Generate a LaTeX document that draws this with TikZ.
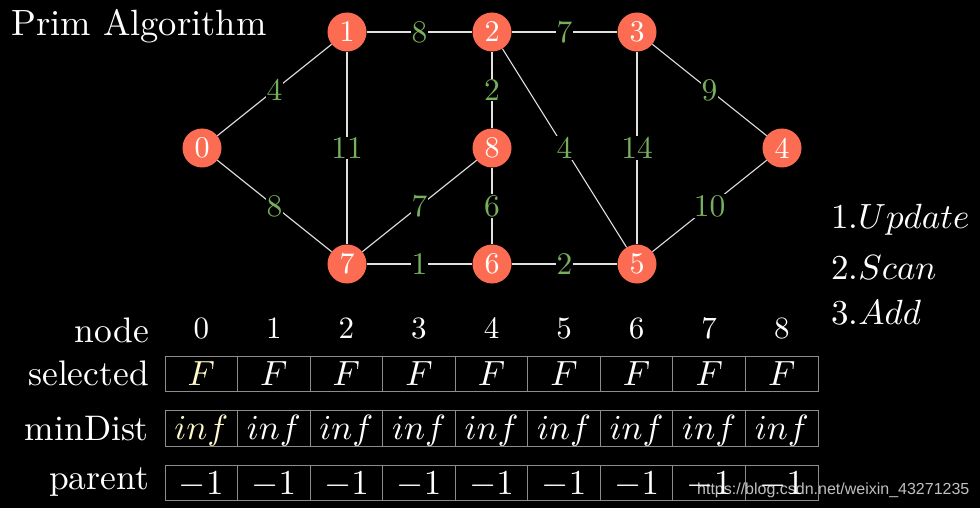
\documentclass[tikz,border=0pt]{standalone}
\usepackage{fontspec}
\setmainfont{lmroman10-regular.otf}[ItalicFont=lmroman10-italic.otf,BoldFont=lmroman10-bold.otf]
\newfontfamily\wmfont{Liberation Sans}
\DeclareFontShape{OT1}{cmr}{m}{n}{<->cmr10}{}
\DeclareFontShape{OML}{cmm}{m}{it}{<->cmmi10}{\skewchar\font'177}
\DeclareFontShape{OMS}{cmsy}{m}{n}{<->cmsy10}{\skewchar\font'60}
\definecolor{nodered}{RGB}{252,108,82}
\definecolor{wgreen}{RGB}{119,176,93}
\definecolor{cellgray}{RGB}{140,140,140}
\definecolor{cream}{RGB}{255,248,200}
\definecolor{edgecol}{RGB}{225,225,225}
\tikzset{
  vtx/.style={circle,fill=nodered,text=white,inner sep=0pt,minimum size=39pt,font=\fontsize{30}{34}\selectfont},
  wlab/.style={fill=black,text=wgreen,inner sep=1pt,font=\fontsize{31.5}{36}\selectfont},
  edge/.style={draw=edgecol,line width=1.1pt},
  cell/.style={draw=cellgray,line width=1pt,text=white,inner sep=0pt,minimum width=72.6pt,text height=29pt,text depth=6.5pt,anchor=base,font=\fontsize{35}{40}\selectfont},
  rowlab/.style={text=white,anchor=base east,inner sep=0pt,font=\fontsize{35.5}{40}\selectfont},
  head/.style={text=white,anchor=base,inner sep=0pt,font=\fontsize{31}{36}\selectfont},
  steplab/.style={text=white,anchor=base west,inner sep=0pt,font=\fontsize{35}{40}\selectfont}
}
\begin{document}
\begin{tikzpicture}[x=1pt,y=-1pt]
\fill[black] (0,0) rectangle (980,508);
\useasboundingbox (0,0) rectangle (980,508);
% title
\node[text=white,anchor=base west,inner sep=0pt,font=\fontsize{36.5}{40}\selectfont] (title) at (11,36) {Prim Algorithm};
% vertices
\node[vtx] (v0) at (202,148) {0};
\node[vtx] (v1) at (347,32) {1};
\node[vtx] (v2) at (492,32) {2};
\node[vtx] (v3) at (637,32) {3};
\node[vtx] (v4) at (782,148) {4};
\node[vtx] (v5) at (637,264) {5};
\node[vtx] (v6) at (492,264) {6};
\node[vtx] (v7) at (347,264) {7};
\node[vtx] (v8) at (492,148) {8};
% edges
\draw[edge] (v0) -- node[wlab]{4} (v1);
\draw[edge] (v0) -- node[wlab]{8} (v7);
\draw[edge] (v1) -- node[wlab]{8} (v2);
\draw[edge] (v1) -- node[wlab]{11} (v7);
\draw[edge] (v2) -- node[wlab]{7} (v3);
\draw[edge] (v2) -- node[wlab]{2} (v8);
\draw[edge] (v2) -- node[wlab]{4} (v5);
\draw[edge] (v3) -- node[wlab]{9} (v4);
\draw[edge] (v3) -- node[wlab]{14} (v5);
\draw[edge] (v4) -- node[wlab]{10} (v5);
\draw[edge] (v7) -- node[wlab]{7} (v8);
\draw[edge] (v8) -- node[wlab]{6} (v6);
\draw[edge] (v7) -- node[wlab]{1} (v6);
\draw[edge] (v6) -- node[wlab]{2} (v5);
% steps
\node[steplab] (s1) at (831,228) {1.$Update$};
\node[steplab] (s2) at (831,279) {2.$Scan$};
\node[steplab] (s3) at (831,324) {3.$Add$};
% row labels
\node[rowlab] (lnode) at (149,342) {node};
\node[rowlab] (lsel) at (149,385) {selected};
\node[rowlab] (lmin) at (149,440) {minDist};
\node[rowlab] (lpar) at (149,489) {parent};
% table
\foreach \i in {0,...,8}{
  \pgfmathsetmacro{\cx}{201.3+72.56*\i}
  \node[head] (h\i) at (\cx,338) {\i};
  \ifnum\i=0
    \node[cell,text=cream] (sel\i) at (\cx,385) {$F$};
    \node[cell,text=cream] (min\i) at (\cx,439.5) {$inf$};
  \else
    \node[cell] (sel\i) at (\cx,385) {$F$};
    \node[cell] (min\i) at (\cx,439.5) {$inf$};
  \fi
  \node[cell] (par\i) at (\cx,494) {$-1$};
}
% watermark
\node[text=white,opacity=0.75,anchor=base west,inner sep=0pt,font=\wmfont\fontsize{16}{18}\selectfont] (wm) at (697,494) {https://blog.csdn.net/weixin\_43271235};
\end{tikzpicture}
\end{document}
